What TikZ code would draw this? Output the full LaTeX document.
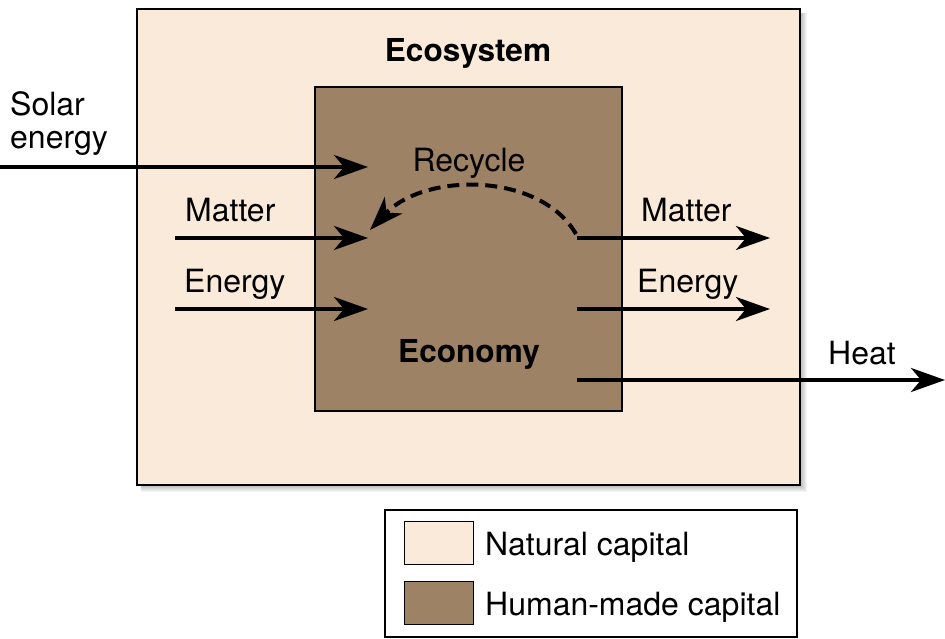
\documentclass[tikz,border=0pt]{standalone}
\usepackage{fontspec}
\setmainfont{TeX Gyre Heros}
\usetikzlibrary{arrows.meta}
\definecolor{natural}{RGB}{250,234,218}
\definecolor{human}{RGB}{158,130,102}
\begin{document}
\begin{tikzpicture}[x=1pt,y=-1pt,
  lbl/.style={font=\fontsize{32}{33}\selectfont, inner sep=0pt},
  blbl/.style={font=\fontsize{31.6}{33}\selectfont\bfseries, inner sep=0pt},
  flow/.style={line width=4pt, -{Stealth[length=34pt,width=24pt,inset=10pt]}},
  boxstyle/.style={draw=black, line width=2pt, inner sep=0pt},
  swatch/.style={draw=black, line width=1.5pt, minimum width=69pt, minimum height=43pt, inner sep=0pt}
]
\useasboundingbox (0,0) rectangle (945,639);
% shadows
\foreach \s in {1,...,7}{
  \fill[black,opacity=0.045] (141,13) rectangle (800+\s,485+\s);
  \fill[black,opacity=0.045] (319,91) rectangle (622+\s,411+\s);
}
\node[boxstyle, fill=natural, minimum width=663pt, minimum height=476pt] (ecosys) at (468.5,247) {};
\node[boxstyle, fill=human, minimum width=307pt, minimum height=324pt] (economy) at (468.5,249) {};

\node[blbl, anchor=base] (ecolbl) at (468,62) {Ecosystem};
\node[blbl, anchor=base] (econlbl) at (469,362) {Economy};
\node[lbl, anchor=base] (recyc) at (469,172) {Recycle};

% labels
\node[lbl, anchor=base west] (solar1) at (10,116) {Solar};
\node[lbl, anchor=base west] (solar2) at (10,149) {energy};
\node[lbl, anchor=base west] (matL) at (185,222) {Matter};
\node[lbl, anchor=base west] (enL) at (184,292) {Energy};
\node[lbl, anchor=base west] (matR) at (641,222) {Matter};
\node[lbl, anchor=base west] (enR) at (637,292) {Energy};
\node[lbl, anchor=base west] (heat) at (828,364) {Heat};

\coordinate (sS) at (0,167);   \coordinate (sE) at (368,167);
\coordinate (mS) at (175,238); \coordinate (mE) at (368,238);
\coordinate (eS) at (175,309); \coordinate (eE) at (368,309);
\coordinate (moS) at (577,238); \coordinate (moE) at (770,238);
\coordinate (eoS) at (577,309); \coordinate (eoE) at (770,309);
\coordinate (hS) at (577,380); \coordinate (hE) at (945,380);
\coordinate (rS) at (576,234); \coordinate (rE) at (370,230);

\draw[flow] (sS) -- (sE);
\draw[flow] (mS) -- (mE);
\draw[flow] (eS) -- (eE);
\draw[flow] (moS) -- (moE);
\draw[flow] (eoS) -- (eoE);
\draw[flow] (hS) -- (hE);
\draw[flow, dash pattern=on 12pt off 7pt] (rS) .. controls (540,172) and (425,172) .. (rE);

% legend
\node[draw=black, line width=2pt, minimum width=412pt, minimum height=127pt, inner sep=0pt, fill=white] (legend) at (591,573.5) {};
\node[swatch, fill=natural] (sw1) at (439,543) {};
\node[swatch, fill=human] (sw2) at (439,603) {};
\node[lbl, anchor=base west] (nat) at (485,555) {Natural capital};
\node[lbl, anchor=base west] (hum) at (485,615) {Human-made capital};
\end{tikzpicture}
\end{document}
